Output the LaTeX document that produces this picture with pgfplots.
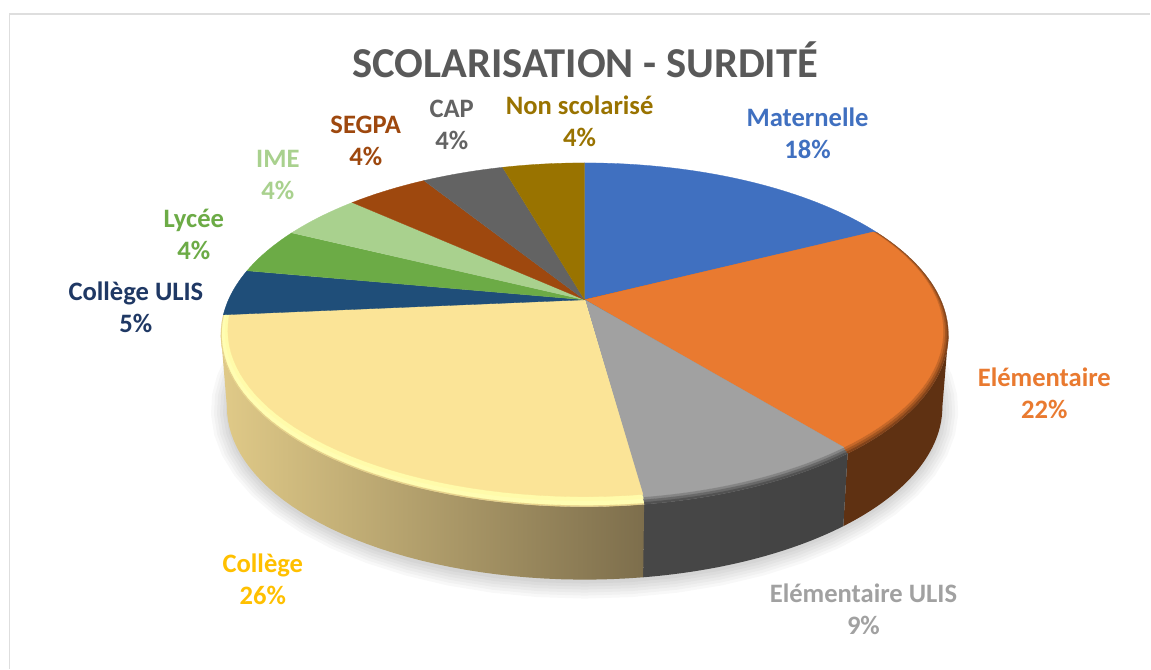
\documentclass[border=0pt]{standalone}
\usepackage{pgfplots}
\pgfplotsset{compat=1.18}
\usepackage{fontspec}
\setmainfont{Carlito}
\definecolor{cMat}{HTML}{4070C0}
\definecolor{cEle}{HTML}{E97A30}
\definecolor{cUli}{HTML}{A1A1A1}
\definecolor{cCol}{HTML}{FBE497}
\definecolor{cCUl}{HTML}{1F4E79}
\definecolor{cLyc}{HTML}{6CAB46}
\definecolor{cIme}{HTML}{A9D18E}
\definecolor{cSeg}{HTML}{9E480E}
\definecolor{cCap}{HTML}{636363}
\definecolor{cNon}{HTML}{997300}
\definecolor{wEle}{HTML}{5F3112}
\definecolor{wUli}{HTML}{444444}
\definecolor{lA}{HTML}{FFFDB2}
\definecolor{lB}{HTML}{FFFBAA}
\definecolor{tCol}{HTML}{FFC000}
\definecolor{tCUl}{HTML}{1F3864}
\definecolor{wL}{HTML}{E0CA88}
\definecolor{wR}{HTML}{7D6E4C}
% counts per slice (out of 23): Maternelle 4, Elementaire 5, Elementaire ULIS 2,
% College 6, College ULIS 1, Lycee 1, IME 1, SEGPA 1, CAP 1, Non scolarise 1
\newcommand{\slice}[4]{%
  \addplot[fill=#3, draw=#3, line width=0.3pt, variable=\k, samples at={-1,0,1,...,40}]
  ({\k<0 ? 585 : 585+(364-7*#4)*ex(#1+(#2-#1)*\k/40)},
   {\k<0 ? 300 : (335-4.5*#4)-(172-5.5*#4)*ey(#1+(#2-#1)*\k/40)});
}
\newcommand{\wall}[3]{%
  \addplot[#3, draw=none, variable=\k, samples at={0,1,...,81}]
  ({\k<41 ? 585+364*ex(#1+(#2-#1)*\k/40) : 585+358*ex(#1+(#2-#1)*(81-\k)/40)},
   {\k<41 ? 335-172*ey(#1+(#2-#1)*\k/40) : 407-173*ey(#1+(#2-#1)*(81-\k)/40)});
}
\newcommand{\shadow}[1]{%
  \addplot[fill=black, fill opacity=0.028, draw=none, variable=\k, samples at={0,1,...,60}]
  ({585+(358+#1)*ex(23*\k/60)},{410-(173+#1)*ey(23*\k/60)});
}
\newcommand{\lab}[6]{% x y colour name pct size
  \node[text=#3, align=center, font=\fontsize{#6}{32}\selectfont\bfseries, inner sep=1pt] at (axis cs:#1,#2) {#4\\#5};
}
\begin{document}
\begin{tikzpicture}
\begin{axis}[
  width=1151pt, height=669pt, scale only axis,
  xmin=0, xmax=1151, ymin=0, ymax=669, y dir=reverse,
  hide axis, clip=false,
  declare function={
    th(\t)=\t*360/23;
    ex(\t)=sin(th(\t))*0.9831/(1+0.183*cos(th(\t)));
    ey(\t)=(cos(th(\t))+0.183)/(1+0.183*cos(th(\t)));
  }]
\addplot[fill=white, draw=none] coordinates {(0,0) (1151,0) (1151,669) (0,669)} -- cycle;
\addplot[draw=black!13, line width=1.5pt] coordinates {(9.5,669) (9.5,14) (1151,14)};
% shadow
\shadow{16}\shadow{13}\shadow{10}\shadow{7}\shadow{4}\shadow{1}
% walls
\wall{6.42}{9}{fill=wEle}
\wall{9}{11}{left color=black!72, right color=black!74}
\wall{11}{16.58}{left color=wL, right color=wR}
% top faces, outer to inner
\slice{0}{4}{cMat}{0}
\slice{4}{9}{cEle!25!wEle}{0}
\slice{4}{9}{cEle!50!wEle}{0.25}
\slice{4}{9}{cEle!75!wEle}{0.5}
\slice{4}{9}{cEle}{0.75}
\slice{9}{11}{cUli!15!wUli}{0}
\slice{9}{11}{cUli!40!wUli}{0.25}
\slice{9}{11}{cUli!70!wUli}{0.5}
\slice{9}{11}{cUli}{0.75}
\slice{11}{17}{cCol!92!black}{0}
\slice{11}{17}{lA}{0.15}
\slice{11}{17}{lB}{0.6}
\slice{11}{17}{cCol}{1}
\slice{17}{18}{cCUl}{0}
\slice{18}{19}{cLyc}{0}
\slice{19}{20}{cIme}{0}
\slice{20}{21}{cSeg}{0}
\slice{21}{22}{cCap}{0}
\slice{22}{23}{cNon}{0}
% texts
\node[text=black!65, font=\fontsize{42.6}{44}\selectfont\bfseries] at (axis cs:585.5,60) {SCOLARISATION - SURDITÉ};
\lab{808}{133}{cMat}{Maternelle}{18\%}{26.6}
\lab{1045}{394}{cEle}{Elémentaire}{22\%}{26.6}
\lab{864}{610}{cUli}{Elémentaire ULIS}{9\%}{26.6}
\lab{263}{580}{tCol}{Collège}{26\%}{26.6}
\lab{136}{307}{tCUl}{Collège ULIS}{5\%}{26.6}
\lab{194}{235}{cLyc}{Lycée}{4\%}{26.6}
\lab{278}{175}{cIme}{IME}{4\%}{26.6}
\lab{366}{141}{cSeg}{SEGPA}{4\%}{26.6}
\lab{452}{125}{cCap}{CAP}{4\%}{26.6}
\lab{580}{121}{cNon}{Non scolarisé}{4\%}{26.6}
\end{axis}
\end{tikzpicture}
\end{document}
